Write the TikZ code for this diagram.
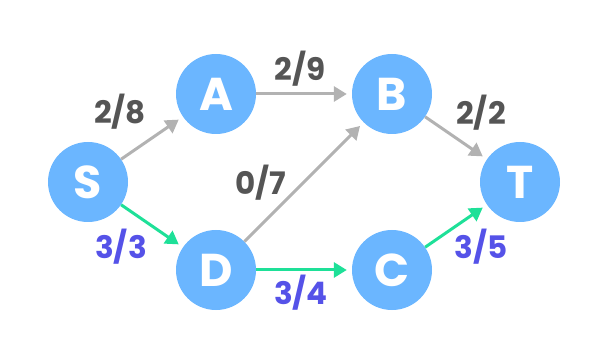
\documentclass[tikz,border=0pt]{standalone}
\usepackage{fontspec}
\setmainfont{Poppins}
\usetikzlibrary{arrows.meta}
\definecolor{nodeblue}{RGB}{107,182,255}
\definecolor{edgegray}{RGB}{178,178,178}
\definecolor{flowgreen}{RGB}{30,224,152}
\definecolor{labelgray}{RGB}{85,85,85}
\definecolor{labelblue}{RGB}{85,82,232}
\tikzset{
  vertex/.style={circle, fill=nodeblue, minimum size=80pt, inner sep=0pt, text=white, font=\fontsize{46}{46}\selectfont\bfseries},
  edge/.style={line width=3pt, draw=edgegray, -{Triangle[length=13pt,width=15pt]}, shorten >=5pt},
  flow/.style={edge, draw=flowgreen},
  lbl/.style={text=labelgray, font=\fontsize{31}{31}\selectfont\bfseries},
  flbl/.style={lbl, text=labelblue}
}
\begin{document}
\begin{tikzpicture}[x=1pt,y=-1pt]
\useasboundingbox (0,0) rectangle (608,358);
\node[vertex] (S) at (88,182) {S};
\node[vertex] (A) at (216,94) {A};
\node[vertex] (B) at (392,94) {B};
\node[vertex] (D) at (216,270) {D};
\node[vertex] (C) at (392,270) {C};
\node[vertex] (T) at (520,182) {T};
\draw[edge] (S) -- (A);
\draw[edge] (A) -- (B);
\draw[edge] (B) -- (T);
\draw[edge] (D) -- (B);
\draw[flow] (S) -- (D);
\draw[flow] (D) -- (C);
\draw[flow] (C) -- (T);
\node[lbl] (l28) at (120,112) {2/8};
\node[lbl] (l29) at (300,69) {2/9};
\node[lbl] (l22) at (481,113) {2/2};
\node[lbl] (l07) at (261,182.5) {0/7};
\node[flbl] (l33) at (121,246.5) {3/3};
\node[flbl] (l34) at (301,292.5) {3/4};
\node[flbl] (l35) at (481,246.5) {3/5};
\end{tikzpicture}
\end{document}
